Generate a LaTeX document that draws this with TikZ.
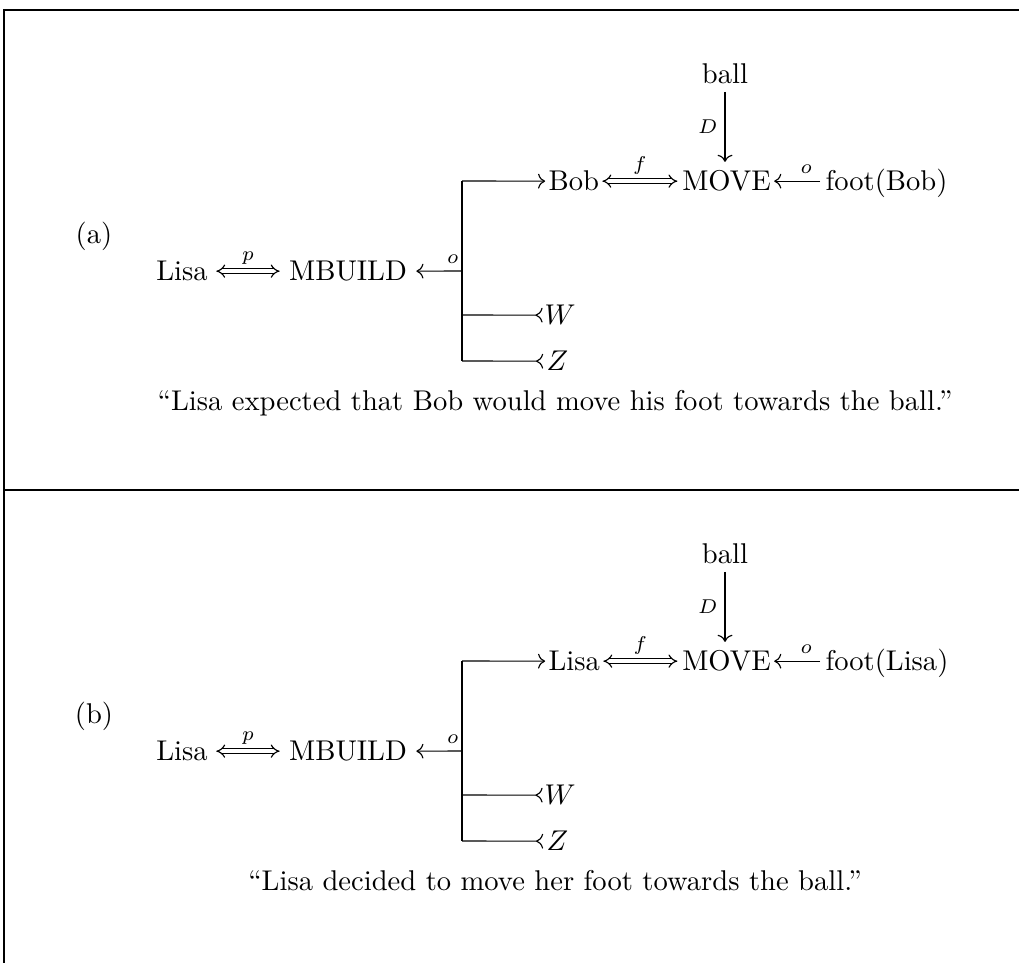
\documentclass[tikz,border=0pt]{standalone}
\usetikzlibrary{arrows.meta}
\newcommand{\cdax}{3.1pt}
\newcommand{\cdpanel}[6]{%
\begin{scope}[shift={(0,#2)}]
\node[lbl, anchor=center] (tag#1) at (94,236) {(#6)};
\node[lbl, anchor=base west] (ag#1) at (548,190) {#3};
\node[lbl] (mv#1) at (726.5,190) {MOVE};
\node[lbl, anchor=base west] (ft#1) at (825,190) {#4};
\node[lbl] (ball#1) at (725,83) {ball};
\node[lbl] (li#1) at (182,280) {Lisa};
\node[lbl] (mb#1) at (348,280) {MBUILD};
\node[lbl, anchor=base west] (w#1) at (544,324) {$W$};
\node[lbl, anchor=base west] (z#1) at (546,370) {$Z$};
\node[lbl] (cap#1) at (555,410) {#5};
\coordinate (bt#1) at (462,181);
\coordinate (bb#1) at (462,361);
\coordinate (bm#1) at (462,271);
\coordinate (bw#1) at (462,315);
\coordinate (mt#1) at (ball#1.base |- mv#1.north);
\draw[thin] (bt#1) -- (bb#1);
\draw[arr] (bt#1) -- ([xshift=-1pt,yshift=\cdax]ag#1.base west);
\draw[dbl] ([xshift=1pt,yshift=\cdax]ag#1.base east) -- node[tag, above=2pt]{$f$} ([xshift=-1.5pt,yshift=\cdax]mv#1.base west);
\draw[arr] ([xshift=-1.75pt,yshift=\cdax]ft#1.base west) -- node[tag, pos=0.3, above=2.5pt]{$o$} ([xshift=1pt,yshift=\cdax]mv#1.base east);
\draw[arr] ([yshift=-3.1pt]ball#1.base) -- node[tag, left=2.5pt]{$D$} ([yshift=2.6pt]mt#1);
\draw[arr] (bm#1) -- node[tag, pos=0.2, above=2.5pt]{$o$} ([xshift=3.1pt,yshift=\cdax]mb#1.base east);
\draw[dbl] ([xshift=2.8pt,yshift=\cdax]li#1.base east) -- node[tag, above=2pt]{$p$} ([xshift=-3.1pt,yshift=\cdax]mb#1.base west);
\draw[rarr] (bw#1) -- ([xshift=-0.5pt,yshift=\cdax]w#1.base west);
\draw[rarr] (bb#1) -- ([xshift=-1pt,yshift=\cdax]z#1.base west);
\end{scope}}
\begin{document}
\begin{tikzpicture}[x=0.35pt,y=-0.35pt,
  lbl/.style={inner sep=0pt, anchor=base},
  arr/.style={-{Computer Modern Rightarrow}, line width=0.4pt},
  rarr/.style={-{Computer Modern Rightarrow[reversed]}, line width=0.4pt},
  dbl/.style={double, double distance=1.2pt, line width=0.4pt, {Implies}-{Implies}},
  tag/.style={font=\scriptsize, inner sep=0pt},
  frame/.style={line width=0.4pt}]
\useasboundingbox (0,0) rectangle (1019,963);
\draw[frame] (1019,10) -- (4,10) -- (4,963);
\draw[frame] (4,490) -- (1019,490);
\cdpanel{A}{0}{Bob}{foot(Bob)}{``Lisa expected that Bob would move his foot towards the ball.''}{a}
\cdpanel{B}{480}{Lisa}{foot(Lisa)}{``Lisa decided to move her foot towards the ball.''}{b}
\end{tikzpicture}
\end{document}
